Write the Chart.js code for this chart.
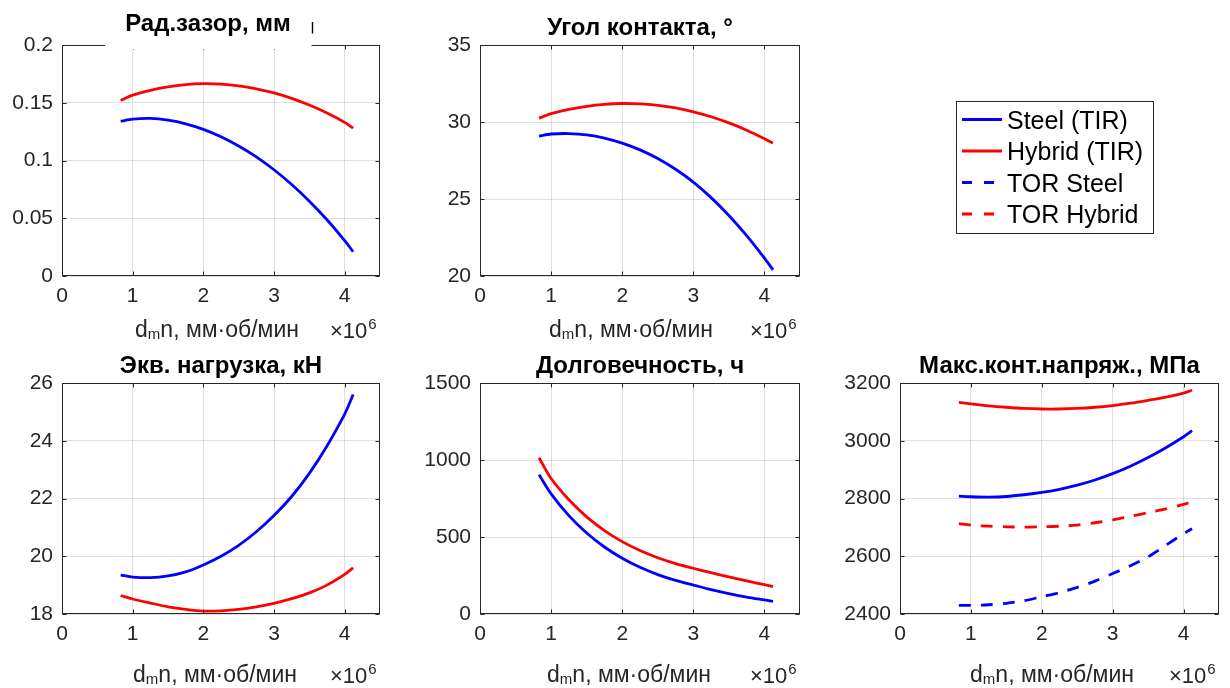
<!DOCTYPE html>
<html>
<head>
<meta charset="utf-8">
<script src="https://cdn.jsdelivr.net/npm/chart.js@4.4.1/dist/chart.umd.min.js"></script>
<style>
  html, body { margin: 0; padding: 0; background: #fff; width: 1230px; height: 688px; overflow: hidden; }
  canvas { position: absolute; }
</style>
</head>
<body>
<canvas id="pClearance" width="400" height="345" style="left:0px;top:0px"></canvas>
<canvas id="pAngle" width="400" height="345" style="left:420px;top:0px"></canvas>
<canvas id="pLegend" width="240" height="160" style="left:940px;top:90px"></canvas>
<canvas id="pLoad" width="400" height="348" style="left:0px;top:340px"></canvas>
<canvas id="pLife" width="400" height="348" style="left:420px;top:340px"></canvas>
<canvas id="pStress" width="390" height="348" style="left:840px;top:340px"></canvas>
<script>
// d_m·n, ×10^6 мм·об/мин
const dmn = [0.83, 1.0, 1.25, 1.5, 1.75, 2.0, 2.25, 2.5, 2.75, 3.0, 3.25, 3.5, 3.75, 4.0, 4.12];

// Радиальный зазор, мм
const clearanceSteel  = [0.1340, 0.1358, 0.1364, 0.1349, 0.1318, 0.1270, 0.1206, 0.1126, 0.1032, 0.0920, 0.0792, 0.0648, 0.0487, 0.0306, 0.0210];
const clearanceHybrid = [0.1520, 0.1566, 0.1608, 0.1638, 0.1657, 0.1665, 0.1662, 0.1647, 0.1621, 0.1585, 0.1538, 0.1480, 0.1411, 0.1330, 0.1280];

// Угол контакта, °
const angleSteel  = [29.09, 29.22, 29.25, 29.17, 28.96, 28.63, 28.19, 27.63, 26.93, 26.10, 25.09, 23.93, 22.62, 21.16, 20.40];
const angleHybrid = [30.25, 30.54, 30.82, 31.02, 31.15, 31.20, 31.18, 31.08, 30.91, 30.66, 30.34, 29.94, 29.47, 28.92, 28.63];

// Эквивалентная нагрузка, кН
const loadSteel  = [19.35, 19.28, 19.26, 19.32, 19.46, 19.70, 20.00, 20.38, 20.85, 21.41, 22.07, 22.87, 23.82, 24.92, 25.60];
const loadHybrid = [18.64, 18.52, 18.38, 18.25, 18.16, 18.10, 18.11, 18.16, 18.25, 18.37, 18.53, 18.73, 19.00, 19.37, 19.60];

// Долговечность, ч
const lifeSteel  = [905, 780, 639, 526, 435, 362, 303, 256, 218, 188, 158, 132, 110, 91, 82];
const lifeHybrid = [1015, 880, 742, 631, 542, 470, 412, 365, 327, 297, 268, 241, 215, 190, 178];

// Максимальное контактное напряжение, МПа
const stressSteelTIR  = [2808, 2806, 2805, 2807, 2813, 2821, 2832, 2846, 2864, 2886, 2912, 2942, 2976, 3014, 3035];
const stressHybridTIR = [3133, 3128, 3121, 3116, 3112, 3110, 3110, 3112, 3116, 3122, 3130, 3140, 3151, 3165, 3175];
const stressSteelTOR  = [2430, 2430, 2432, 2437, 2446, 2460, 2474, 2492, 2514, 2540, 2567, 2598, 2638, 2678, 2695];
const stressHybridTOR = [2713, 2708, 2704, 2702, 2701, 2702, 2704, 2708, 2716, 2726, 2738, 2751, 2764, 2780, 2788];

// Axis ticks
const xTicks = [0, 1, 2, 3, 4];
const seriesNames = ['Steel (TIR)', 'Hybrid (TIR)', 'TOR Steel', 'TOR Hybrid'];

const FONT = '"Liberation Sans", Arial, Helvetica, sans-serif';
const AX = '#262626';
const GRID = 'rgba(38,38,38,0.15)';
const BLUE = '#0000ff';
const RED = '#ff0000';
const DASH = [12, 10];

// Box, inward ticks, titles, x label with subscript and the ×10^6 multiplier
const panelDecor = {
  id: 'panelDecor',
  afterDraw(chart, args, o) {
    const { ctx, chartArea: a, scales } = chart;
    const L = Math.round(a.left) + 0.5, R = Math.round(a.right) - 0.5;
    const T = Math.round(a.top) + 0.5, B = Math.round(a.bottom) - 0.5;
    ctx.save();
    ctx.strokeStyle = AX;
    ctx.lineWidth = 1;
    ctx.beginPath();
    const tl = 4;
    scales.x.ticks.forEach(t => {
      const px = Math.round(scales.x.getPixelForValue(t.value)) + 0.5;
      ctx.moveTo(px, B); ctx.lineTo(px, B - tl);
      ctx.moveTo(px, T); ctx.lineTo(px, T + tl);
    });
    scales.y.ticks.forEach(t => {
      const py = Math.round(scales.y.getPixelForValue(t.value)) + 0.5;
      ctx.moveTo(L, py); ctx.lineTo(L + tl, py);
      ctx.moveTo(R, py); ctx.lineTo(R - tl, py);
    });
    ctx.stroke();
    ctx.strokeRect(L, T, R - L, B - T);

    if (o.mask) {
      ctx.fillStyle = '#fff';
      ctx.fillRect(o.mask[0], a.top - 5, o.mask[1] - o.mask[0], 9);
      ctx.beginPath();
      ctx.moveTo(o.mask[1] + 1, 22); ctx.lineTo(o.mask[1] + 1, 33.5);
      ctx.strokeStyle = '#000';
      ctx.lineWidth = 1.4;
      ctx.stroke();
    }

    const cx = (a.left + a.right) / 2;
    ctx.textBaseline = 'alphabetic';

    // title
    ctx.fillStyle = '#000';
    ctx.font = 'bold 24px ' + FONT;
    ctx.textAlign = 'center';
    ctx.fillText(o.title, cx + (o.titleDx || 0), a.top + o.titleDy);

    // x label: d_m n, мм·об/мин
    ctx.fillStyle = AX;
    const main = '23px ' + FONT, sub = '15px ' + FONT;
    const parts = [['d', main, 0], ['m', sub, 2], ['n, мм·об/мин', main, 0]];
    let w = 0;
    parts.forEach(p => { ctx.font = p[1]; w += ctx.measureText(p[0]).width; });
    let x = cx + (o.xlabelDx || 0) - w / 2;
    const by = a.bottom + o.xlabelDy;
    ctx.textAlign = 'left';
    parts.forEach(p => { ctx.font = p[1]; ctx.fillText(p[0], x, by + p[2]); x += ctx.measureText(p[0]).width; });

    // ×10^6
    ctx.font = '22px ' + FONT;
    let ex = a.right - 50;
    ctx.fillText('×10', ex, by + 1);
    ex += ctx.measureText('×10').width + 1;
    ctx.font = '15px ' + FONT;
    ctx.fillText('6', ex, by - 8);
    ctx.restore();
  }
};

function makeSeries(label, values, color, dash) {
  return {
    label,
    data: dmn.map((x, i) => ({ x, y: values[i] })),
    borderColor: color,
    backgroundColor: color,
    borderWidth: 2.8,
    borderDash: dash || [],
    pointRadius: 0,
    fill: false,
    tension: 0.3
  };
}

function makePanel(id, p) {
  return new Chart(document.getElementById(id), {
    type: 'line',
    data: { datasets: p.series },
    options: {
      responsive: false,
      animation: false,
      events: [],
      layout: { padding: p.pad },
      plugins: {
        legend: { display: false },
        tooltip: { enabled: false },
        title: { display: false },
        panelDecor: p.decor
      },
      scales: {
        x: {
          type: 'linear', min: 0, max: 4.5,
          afterBuildTicks: s => { s.ticks = xTicks.map(v => ({ value: v })); },
          ticks: { font: { family: FONT, size: 21 }, color: AX, padding: 8, maxRotation: 0,
                   callback: v => String(v) },
          grid: { color: GRID, lineWidth: 1, drawTicks: false },
          border: { display: false },
          afterFit: s => { s.height = p.xh; }
        },
        y: {
          type: 'linear', min: p.yMin, max: p.yMax,
          ticks: { stepSize: p.yStep, font: { family: FONT, size: 21 }, color: AX, padding: 9,
                   callback: v => String(+v.toFixed(3)) },
          grid: { color: GRID, lineWidth: 1, drawTicks: false },
          border: { display: false },
          afterFit: s => { s.width = p.yw; }
        }
      }
    },
    plugins: [panelDecor]
  });
}

makePanel('pClearance', {
  series: [makeSeries(seriesNames[0], clearanceSteel, BLUE), makeSeries(seriesNames[1], clearanceHybrid, RED)],
  yMin: 0, yMax: 0.2, yStep: 0.05, yw: 62, xh: 69,
  pad: { top: 45, right: 20, left: 0, bottom: 0 },
  decor: { title: 'Рад.зазор, мм', titleDy: -14.5, titleDx: -13, xlabelDy: 61, xlabelDx: -4, mask: [105, 311.5] }
});

makePanel('pAngle', {
  series: [makeSeries(seriesNames[0], angleSteel, BLUE), makeSeries(seriesNames[1], angleHybrid, RED)],
  yMin: 20, yMax: 35, yStep: 5, yw: 60, xh: 69,
  pad: { top: 45, right: 20, left: 0, bottom: 0 },
  decor: { title: 'Угол контакта, °', titleDy: -10, xlabelDy: 61, xlabelDx: -9 }
});

makePanel('pLoad', {
  series: [makeSeries(seriesNames[0], loadSteel, BLUE), makeSeries(seriesNames[1], loadHybrid, RED)],
  yMin: 18, yMax: 26, yStep: 2, yw: 62, xh: 74,
  pad: { top: 43, right: 20, left: 0, bottom: 0 },
  decor: { title: 'Экв. нагрузка, кН', titleDy: -10, xlabelDy: 67.5, xlabelDx: -6 }
});

makePanel('pLife', {
  series: [makeSeries(seriesNames[0], lifeSteel, BLUE), makeSeries(seriesNames[1], lifeHybrid, RED)],
  yMin: 0, yMax: 1500, yStep: 500, yw: 60, xh: 74,
  pad: { top: 43, right: 20, left: 0, bottom: 0 },
  decor: { title: 'Долговечность, ч', titleDy: -10, xlabelDy: 67.5, xlabelDx: -11 }
});

makePanel('pStress', {
  series: [
    makeSeries(seriesNames[0], stressSteelTIR, BLUE),
    makeSeries(seriesNames[1], stressHybridTIR, RED),
    makeSeries(seriesNames[2], stressSteelTOR, BLUE, DASH),
    makeSeries(seriesNames[3], stressHybridTOR, RED, DASH)
  ],
  yMin: 2400, yMax: 3200, yStep: 200, yw: 60, xh: 74,
  pad: { top: 43, right: 11, left: 0, bottom: 0 },
  decor: { title: 'Макс.конт.напряж., МПа', titleDy: -10, xlabelDy: 67.5, xlabelDx: -7.5 }
});

// Shared legend drawn from its own dataset list
const legendBox = {
  id: 'legendBox',
  afterDraw(chart) {
    const { ctx } = chart;
    ctx.save();
    ctx.strokeStyle = AX;
    ctx.lineWidth = 1;
    ctx.strokeRect(16.5, 11.5, 197, 132);
    ctx.font = '25px ' + FONT;
    ctx.textBaseline = 'alphabetic';
    ctx.textAlign = 'left';
    chart.data.datasets.forEach((ds, i) => {
      const cy = 29.5 + i * 31.5;
      ctx.beginPath();
      ctx.strokeStyle = ds.borderColor;
      ctx.lineWidth = ds.borderWidth;
      ctx.setLineDash(ds.borderDash.length ? [10, 12] : []);
      ctx.moveTo(22, cy); ctx.lineTo(62, cy);
      ctx.stroke();
      ctx.setLineDash([]);
      ctx.fillStyle = '#000';
      ctx.fillText(ds.label, 67, cy + 9);
    });
    ctx.restore();
  }
};

new Chart(document.getElementById('pLegend'), {
  type: 'line',
  data: {
    datasets: [
      { label: seriesNames[0], data: [], borderColor: BLUE, borderWidth: 2.8, borderDash: [] },
      { label: seriesNames[1], data: [], borderColor: RED, borderWidth: 2.8, borderDash: [] },
      { label: seriesNames[2], data: [], borderColor: BLUE, borderWidth: 2.8, borderDash: DASH },
      { label: seriesNames[3], data: [], borderColor: RED, borderWidth: 2.8, borderDash: DASH }
    ]
  },
  options: {
    responsive: false, animation: false, events: [],
    plugins: { legend: { display: false }, tooltip: { enabled: false } },
    scales: { x: { display: false }, y: { display: false } }
  },
  plugins: [legendBox]
});
</script>
</body>
</html>
